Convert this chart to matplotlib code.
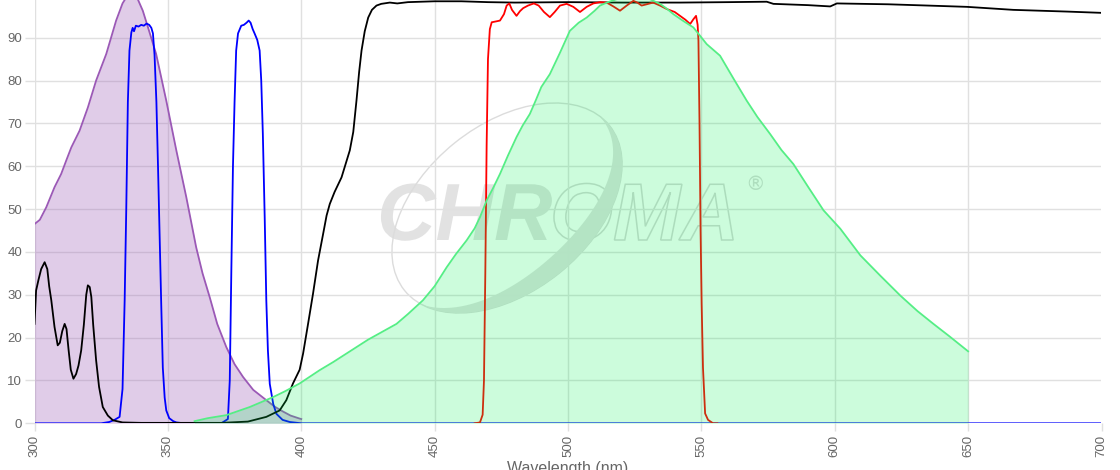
import numpy as np
import matplotlib
matplotlib.use("Agg")
import matplotlib.pyplot as plt
from matplotlib.patches import Ellipse, Polygon, PathPatch
from matplotlib.textpath import TextPath
from matplotlib.font_manager import FontProperties
from matplotlib.transforms import Affine2D

# excitation spectrum (purple, filled)
ex_wl = [300, 302, 304.4, 307.5, 310, 312, 313.8, 316.9, 320, 323.1, 326.9, 330.6, 333,
         335.5, 338, 340.6, 343, 345.6, 349.4, 353.2, 356.9, 360.6, 363, 365.7, 368.5,
         371.9, 375, 378.2, 382, 386.9, 390, 393, 396, 399.4, 400]
ex_val = [46.5, 47.5, 50.4, 55.1, 58.2, 61.5, 64.4, 68.3, 73.7, 80, 86.2, 94, 98,
          100.5, 100, 96.3, 91.5, 86.2, 75.3, 63.6, 52.8, 41.1, 35, 29.4, 23.2,
          17.8, 13.8, 10.8, 7.8, 5.4, 3.9, 2.8, 1.8, 1.1, 1.0]

# excitation filter (blue, dual band)
exf_wl = [300, 325, 328, 330, 331.9, 333, 333.8, 334.4, 335, 335.6, 336.3, 336.8, 337.3,
          338, 339, 340, 341, 342, 343, 343.8, 344.4, 345, 345.7, 346.3, 346.9, 347.5,
          348.1, 348.8, 349.4, 350.5, 352, 353.2, 356, 370, 372.5, 373.2, 373.8, 374.4,
          375, 375.6, 376.3, 377.5, 378.5, 379.5, 380.3, 381, 381.8, 382.5, 383.5, 384.4,
          385, 385.6, 386.3, 386.9, 387.5, 388.2, 389.5, 390.7, 393, 395.7, 400, 700]
exf_val = [0, 0, 0.3, 0.8, 1.5, 8, 28.7, 50, 75, 87, 91.2, 92.3, 91.5,
           92.8, 92.6, 93, 92.8, 93.3, 93, 92.3, 91, 86, 75, 60, 44, 28,
           13, 6, 3, 1.2, 0.5, 0.2, 0, 0, 1, 10, 36, 60,
           75, 87, 91, 92.8, 93, 93.5, 94, 93.5, 92, 91, 89.5, 87,
           80, 67.6, 48, 28.7, 17, 9.2, 4.5, 2.2, 0.8, 0.3, 0, 0]

# dichroic (black)
di_wl = [300, 300.6, 301.5, 302.5, 303.8, 304.8, 305.5, 306.3, 307.5, 308.7, 309.5, 310.4,
         311.3, 312, 312.8, 313.6, 314.6, 315.6, 316.5, 317.5, 318.5, 319.4, 320, 320.7,
         321.3, 322, 323.1, 324.2, 325.6, 327.5, 329.4, 333, 340, 370, 380, 386.9, 391.9,
         394.4, 396.9, 399.4, 400.7, 402.5, 404.4, 406.3, 408.2, 409.5, 410.7, 412.5,
         415.1, 418.2, 419.5, 420.7, 421.7, 422.6, 423.8, 425.1, 426.5, 428.2, 430, 433.2,
         436, 440, 450, 460, 470, 480, 500, 520, 542, 560, 574.5, 577, 590, 598.3, 600.8,
         620, 635, 649.6, 666.9, 687, 700]
di_val = [23.2, 31.0, 33.5, 36, 37.6, 36, 32, 28.7, 22.5, 18.2, 18.8, 21.5,
          23.2, 22, 17, 12.5, 10.4, 11.5, 13.5, 17, 23, 30, 32.2, 31.8,
          29.5, 23, 14.7, 8.5, 3.8, 1.8, 0.7, 0.2, 0.1, 0.1, 0.4, 1.5, 3,
          5.4, 9.3, 12.5, 16.3, 23, 30.2, 38, 44.2, 48.5, 51.2, 54,
          57.4, 63.7, 68, 75.3, 82, 87, 91.5, 94.7, 96.5, 97.5, 97.9, 98.2,
          98.0, 98.3, 98.5, 98.5, 98.3, 98.2, 98.3, 98.2, 98.2, 98.3, 98.4, 97.9, 97.6, 97.3, 98.0,
          97.8, 97.5, 97.2, 96.5, 96.1, 95.8]

# emission filter (red)
emf_wl = [465, 467, 468, 468.5, 469, 469.5, 470, 470.7, 471.4, 473, 474.5, 476, 477, 478,
          479, 480.7, 482, 483.2, 485, 487.2, 489, 491, 493.2, 495, 497, 499.5, 502, 504.5,
          507, 509.5, 512, 514.5, 517, 519.5, 522, 524.5, 526, 527.6, 529.5, 531.9, 534.5,
          537, 540, 542, 544, 545.8, 547, 548, 548.6, 548.9, 549.3, 549.7, 550.1, 550.6,
          551.4, 552.5, 554.4, 556]
emf_val = [0, 0.2, 2, 10, 35, 65, 85, 92, 93.6, 93.8, 94, 95.5, 97.5, 98,
           96.5, 95.1, 96.2, 96.9, 97.5, 98, 97.5, 96, 94.8, 96, 97.5, 97.9, 97.2, 96,
           97.2, 98, 98.3, 98.2, 97.3, 96.3, 97.5, 98.6, 98.2, 97.5, 97.8, 98.2, 97.5,
           96.7, 96, 95.1, 94.2, 93.2, 94.3, 95.1, 93, 89.3, 70, 45, 28, 13,
           2.3, 0.8, 0, 0]

# emission spectrum (green, filled)
em_wl = [360, 365, 371.9, 380.7, 389.4, 394, 399.4, 406.9, 412, 417, 425, 435.7, 440,
         445.6, 450, 454.5, 458, 462, 465, 467, 469.5, 472, 474.5, 477.5, 480.7, 483,
         485.7, 488, 490, 493.2, 497, 500.7, 504, 507, 510, 512, 515, 518.3, 522, 526,
         530, 534.5, 537, 539.5, 543, 547, 552, 557, 562, 567, 571, 575.8, 580, 584.5,
         590, 595.8, 602.1, 609.6, 617, 624.6, 631, 637, 643, 649.6, 650]
em_val = [0.5, 1.2, 1.9, 3.8, 6.1, 7.5, 9.3, 12.4, 14.3, 16.3, 19.5, 23.2, 25.5,
          28.7, 32, 36.4, 39.5, 42.7, 45.5, 48.1, 52, 55, 58.2, 62.5, 66.8, 69.5,
          72.2, 75.5, 78.5, 81.5, 86.5, 91.6, 93.5, 94.7, 96.3, 97.5, 98.3, 99, 99.5, 99.6,
          99.2, 97.9, 96.8, 95.5, 94, 92.4, 88.5, 85.8, 80.5, 75.3, 71.5, 67.5, 63.8, 60.5,
          55.2, 49.7, 45.4, 39.2, 34.5, 29.8, 26.2, 23.2, 20.3, 17, 16.8]

x_ticks = list(range(300, 701, 50))
y_ticks = list(range(0, 91, 10))

fig = plt.figure(figsize=(11.2, 4.7), dpi=100)
ax = fig.add_axes([34.5 / 1120, 46.7 / 470, 1067 / 1120, 1 - 46.7 / 470])
ax.set_facecolor("none")

# watermark logo, drawn in inches behind the axes
wm_gray = "#e2e2e2"
fp = FontProperties(family="Liberation Sans", weight="bold", style="italic")
chr_path = TextPath((0, 0), "CHR", size=0.81, prop=fp)
oma_path = TextPath((0, 0), "OMA", size=0.81, prop=fp)
fig.add_artist(PathPatch(chr_path, fc=wm_gray, ec="none", zorder=-2,
                         transform=Affine2D().translate(3.77, 2.30) + fig.dpi_scale_trans))
fig.add_artist(PathPatch(oma_path, fc="none", ec="#d8d8d8", lw=1.1, zorder=-2,
                         transform=Affine2D().translate(5.50, 2.30) + fig.dpi_scale_trans))

cx, cy, ea, eb, rot = 5.07, 2.62, 1.315, 0.835, np.radians(38.8)
fig.add_artist(Ellipse((cx, cy), 2 * ea, 2 * eb, angle=np.degrees(rot), fill=False,
                       ec="#dcdcdc", lw=1.0, zorder=-2, transform=fig.dpi_scale_trans))
t = np.radians(np.linspace(-165, 10, 120))
d = 0.18 * np.sin(np.pi * (t - t[0]) / (t[-1] - t[0])) ** 1.1
outer = np.c_[ea * np.cos(t), eb * np.sin(t)]
inner = np.c_[(ea - d) * np.cos(t), (eb - d) * np.sin(t)]
ring = np.vstack([outer, inner[::-1]])
R = np.array([[np.cos(rot), -np.sin(rot)], [np.sin(rot), np.cos(rot)]])
ring = ring @ R.T + [cx, cy]
fig.add_artist(Polygon(ring, closed=True, fc=wm_gray, ec="none", zorder=-2,
                       transform=fig.dpi_scale_trans))
fig.text(7.55 / 11.2, 2.85 / 4.7, "\u00ae", fontsize=14, color="#dadada",
         ha="center", va="center", zorder=-2)

ax.fill_between(ex_wl, ex_val, color="#9b59b6", alpha=0.3, lw=0, zorder=2)
ax.plot(ex_wl, ex_val, color="#9b59b6", lw=1.3, zorder=2)
ax.plot(exf_wl, exf_val, color="#0000ff", lw=1.3, zorder=3)
ax.plot(di_wl, di_val, color="black", lw=1.3, zorder=3)
ax.plot(emf_wl, emf_val, color="#ff0000", lw=1.3, zorder=3)
ax.fill_between(em_wl, em_val, color="#00f050", alpha=0.2, lw=0, zorder=4)
ax.plot(em_wl, em_val, color="#55ee85", lw=1.3, zorder=4)

ax.set_xlim(300, 700)
ax.set_ylim(0, 98.8)
ax.set_xticks(x_ticks)
ax.set_yticks(y_ticks)
ax.set_xticklabels([str(t) for t in x_ticks], rotation=90, fontfamily="Liberation Sans")
ax.set_yticklabels([str(t) for t in y_ticks], fontfamily="Liberation Sans")
ax.tick_params(axis="both", colors="#e0e0e0", labelcolor="#666666", labelsize=9.5, width=1)
ax.tick_params(axis="x", length=6, pad=2)
ax.tick_params(axis="y", length=7, pad=2)
ax.set_axisbelow(True)
ax.grid(True, color="#e0e0e0", lw=1)
for s in ax.spines.values():
    s.set_visible(False)

fig.text(0.5068, 9 / 470, "Wavelength (nm)", fontsize=11.5, color="#666666",
         ha="center", va="top", fontfamily="Liberation Sans")

fig.savefig("out.png", dpi=100)
